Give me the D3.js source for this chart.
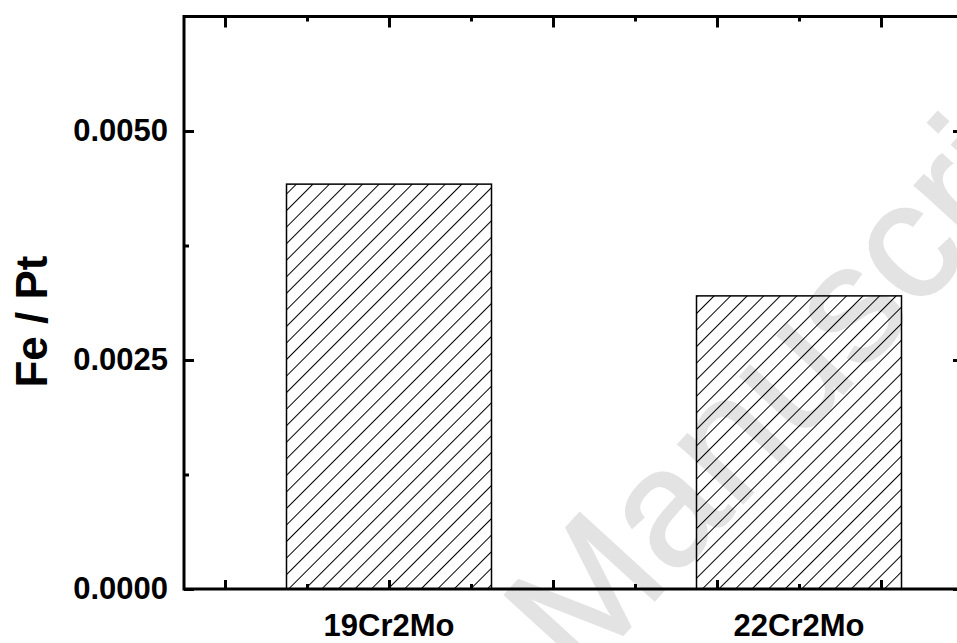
<!DOCTYPE html>
<html>
<head>
<meta charset="utf-8">
<script src="https://cdn.jsdelivr.net/npm/d3@7"></script>
<style>
  html, body { margin: 0; padding: 0; background: #fff; }
  svg { display: block; }
  text { font-family: "Liberation Sans", Arial, sans-serif; }
</style>
</head>
<body>
<svg id="chart" width="957" height="643"></svg>
<script>
// Fe / Pt ratio for the two alloys
const categories = ["19Cr2Mo", "22Cr2Mo"];
const positions = [1, 2];
const ratios = [0.00442, 0.0032];

// axis ticks
const yMajorTicks = [0, 0.0025, 0.005];
const yMinorTicks = [0.00125, 0.00375];
const xMajorTicks = [0.6, 1.0, 1.4, 1.8, 2.2];
const xMinorTicks = [0.8, 1.2, 1.6, 2.0];

const yTitle = "Fe / Pt";
const watermarkText = "Manuscript";

(function draw() {
  const svg = d3.select("#chart");
  const plotLeft = 184, plotRight = 963, plotTop = 16.5, plotBottom = 589;

  const x = d3.scaleLinear().domain([0.5, 2.4]).range([plotLeft, plotRight]);
  const y = d3.scaleLinear().domain([0, 0.00625]).range([plotBottom, plotTop]);

  // hatch pattern for the bars
  const defs = svg.append("defs");
  defs.append("pattern")
    .attr("id", "hatch")
    .attr("patternUnits", "userSpaceOnUse")
    .attr("width", 11.7).attr("height", 12)
    .attr("patternTransform", "rotate(45)")
    .append("line")
    .attr("x1", 0.5).attr("y1", 0).attr("x2", 0.5).attr("y2", 12)
    .attr("stroke", "#000").attr("stroke-width", 1);

  // faint watermark behind everything
  svg.append("text")
    .attr("transform", "translate(580,682) rotate(-47.6)")
    .attr("font-size", 166)
    .attr("fill", "#e3e3e3")
    .attr("stroke", "#e3e3e3")
    .attr("stroke-width", 2)
    .text(watermarkText);

  // bars
  svg.append("g").selectAll("rect")
    .data(positions)
    .join("rect")
    .attr("x", (d) => x(d - 0.25))
    .attr("width", (d) => x(d + 0.25) - x(d - 0.25))
    .attr("y", (d, i) => y(ratios[i]))
    .attr("height", (d, i) => y(0) - y(ratios[i]))
    .attr("fill", "url(#hatch)")
    .attr("stroke", "#000")
    .attr("stroke-width", 1.5);

  function styleTicks(g, width) {
    g.select(".domain").remove();
    g.selectAll(".tick line").attr("stroke", "#000").attr("stroke-width", width);
  }

  // left axis (ticks point inward)
  svg.append("g").attr("transform", `translate(${plotLeft},0)`)
    .call(d3.axisLeft(y).tickValues(yMajorTicks).tickSize(-10).tickPadding(16)
      .tickFormat(d3.format(".4f")))
    .call((g) => styleTicks(g, 3))
    .call((g) => g.selectAll(".tick text")
      .attr("font-size", 31).attr("font-weight", "bold").attr("fill", "#000")
      .attr("font-family", "Liberation Sans, Arial, sans-serif"));
  svg.append("g").attr("transform", `translate(${plotLeft},0)`)
    .call(d3.axisLeft(y).tickValues(yMinorTicks).tickSize(-5).tickFormat(""))
    .call((g) => styleTicks(g, 3));

  // right axis
  svg.append("g").attr("transform", `translate(${plotRight},0)`)
    .call(d3.axisRight(y).tickValues(yMajorTicks).tickSize(-10).tickFormat(""))
    .call((g) => styleTicks(g, 3));
  svg.append("g").attr("transform", `translate(${plotRight},0)`)
    .call(d3.axisRight(y).tickValues(yMinorTicks).tickSize(-5).tickFormat(""))
    .call((g) => styleTicks(g, 3));

  // bottom axis
  svg.append("g").attr("transform", `translate(0,${plotBottom})`)
    .call(d3.axisBottom(x).tickValues(xMajorTicks).tickSize(-9).tickFormat(""))
    .call((g) => styleTicks(g, 3));
  svg.append("g").attr("transform", `translate(0,${plotBottom})`)
    .call(d3.axisBottom(x).tickValues(xMinorTicks).tickSize(-5).tickFormat(""))
    .call((g) => styleTicks(g, 3));

  // top axis
  svg.append("g").attr("transform", `translate(0,${plotTop})`)
    .call(d3.axisTop(x).tickValues(xMajorTicks).tickSize(-11).tickFormat(""))
    .call((g) => styleTicks(g, 3));
  svg.append("g").attr("transform", `translate(0,${plotTop})`)
    .call(d3.axisTop(x).tickValues(xMinorTicks).tickSize(-5).tickFormat(""))
    .call((g) => styleTicks(g, 3));

  // frame
  svg.append("rect")
    .attr("x", plotLeft).attr("y", plotTop)
    .attr("width", plotRight - plotLeft).attr("height", plotBottom - plotTop)
    .attr("fill", "none").attr("stroke", "#000").attr("stroke-width", 3);

  // category labels
  svg.append("g").selectAll("text")
    .data(categories)
    .join("text")
    .attr("x", (d, i) => x(positions[i]))
    .attr("y", 636)
    .attr("text-anchor", "middle")
    .attr("font-size", 31)
    .attr("font-weight", "bold")
    .text((d) => d);

  // y-axis title
  svg.append("text")
    .attr("transform", "translate(47,321.5) rotate(-90)")
    .attr("text-anchor", "middle")
    .attr("font-size", 44)
    .attr("font-weight", "bold")
    .text(yTitle);
})();
</script>
</body>
</html>
